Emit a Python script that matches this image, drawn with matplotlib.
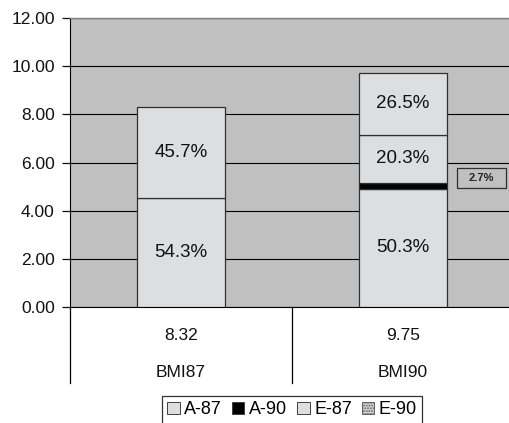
import matplotlib
matplotlib.use("Agg")
import matplotlib.pyplot as plt
import matplotlib.transforms as mtransforms
from matplotlib.patches import Patch, Rectangle

plt.rcParams["font.family"] = ["Liberation Sans", "DejaVu Sans"]

categories = ["BMI87", "BMI90"]
totals = [8.32, 9.75]
series = ["A-87", "A-90", "E-87", "E-90"]
shares = {
    "A-87": [54.3, 50.3],
    "A-90": [0.0, 2.7],
    "E-87": [45.7, 20.3],
    "E-90": [0.0, 26.5],
}
yticks = [0, 2, 4, 6, 8, 10, 12]

bar_fill = "#dcdfe2"
colors = {"A-87": bar_fill, "A-90": "#000000", "E-87": bar_fill, "E-90": bar_fill}

W, H = 510, 423
fig = plt.figure(figsize=(W / 100, H / 100), dpi=100)
ax = fig.add_axes([70 / W, 1 - 307 / H, 440 / W, 289 / H])
ax.set_facecolor("#c0c0c0")

xs = [0.5, 1.5]
bar_w = 0.40
bottoms = [0.0, 0.0]
for name in series:
    heights = [t * s / 100 for t, s in zip(totals, shares[name])]
    for i, (x, h, s) in enumerate(zip(xs, heights, shares[name])):
        if h <= 0:
            continue
        ax.bar(x, h, bottom=bottoms[i], width=bar_w, color=colors[name],
               edgecolor="#303030", linewidth=0.9, zorder=3)
        if name != "A-90":
            ax.text(x, bottoms[i] + h / 2, f"{s:.1f}%", ha="center", va="center",
                    fontsize=13.5, color="#111111", zorder=4)
        else:
            # small callout box for the thin segment
            bx0, bw, by, bh = 0.8795, 0.111, 0.446, 0.069
            ax.add_patch(Rectangle((bx0, by - bh / 2), bw, bh, transform=ax.transAxes,
                                   facecolor="#c0c0c0", edgecolor="#303030",
                                   linewidth=0.9, zorder=4))
            ax.text(bx0 + bw / 2, by, f"{s:.1f}%", transform=ax.transAxes,
                    ha="center", va="center", fontsize=8, fontweight="bold",
                    color="#222222", zorder=5)
        bottoms[i] += h

ax.set_xlim(0, 440 / 222)
ax.set_ylim(0, 12)
ax.set_yticks(yticks)
ax.set_yticklabels([f"{v:.2f}" for v in yticks], fontsize=12.5)
ax.tick_params(axis="y", length=6, width=0.9, pad=5, colors="#111111")
ax.set_xticks([])
ax.grid(axis="y", color="#000000", linewidth=0.8, zorder=1)
ax.set_axisbelow(True)

ax.spines["right"].set_visible(False)
ax.spines["top"].set_color("#808080")
ax.spines["top"].set_linewidth(1.0)
ax.spines["left"].set_color("#000000")
ax.spines["bottom"].set_color("#000000")

# category table beneath the axis
trans = mtransforms.blended_transform_factory(ax.transData, ax.transAxes)
depth = -76 / 289
for xv in [0.0, 1.0]:
    ax.plot([xv, xv], [0, depth], transform=trans, color="#000000",
            linewidth=0.9, clip_on=False)
for x, t, c in zip(xs, totals, categories):
    ax.text(x, -28 / 289, f"{t:.2f}", transform=trans, ha="center", va="center",
            fontsize=12.5, color="#111111")
    ax.text(x, -65 / 289, c, transform=trans, ha="center", va="center",
            fontsize=12.5, color="#111111")

handles = []
for name in series:
    if name == "E-90":
        handles.append(Patch(facecolor="#d8d8d8", edgecolor="#606060",
                             hatch="......", linewidth=0.7, label=name))
    else:
        handles.append(Patch(facecolor=colors[name], edgecolor="#404040",
                             linewidth=0.7, label=name))
leg = fig.legend(handles=handles, loc="upper center", bbox_to_anchor=(292 / W, 1 - 396 / H),
                 ncol=4, fontsize=13, frameon=True, fancybox=False,
                 handlelength=0.7, handleheight=0.7, handletextpad=0.25,
                 columnspacing=0.55, borderpad=0.3, borderaxespad=0)
leg.get_frame().set_edgecolor("#000000")
leg.get_frame().set_linewidth(0.9)

fig.savefig("out.png", dpi=100)
